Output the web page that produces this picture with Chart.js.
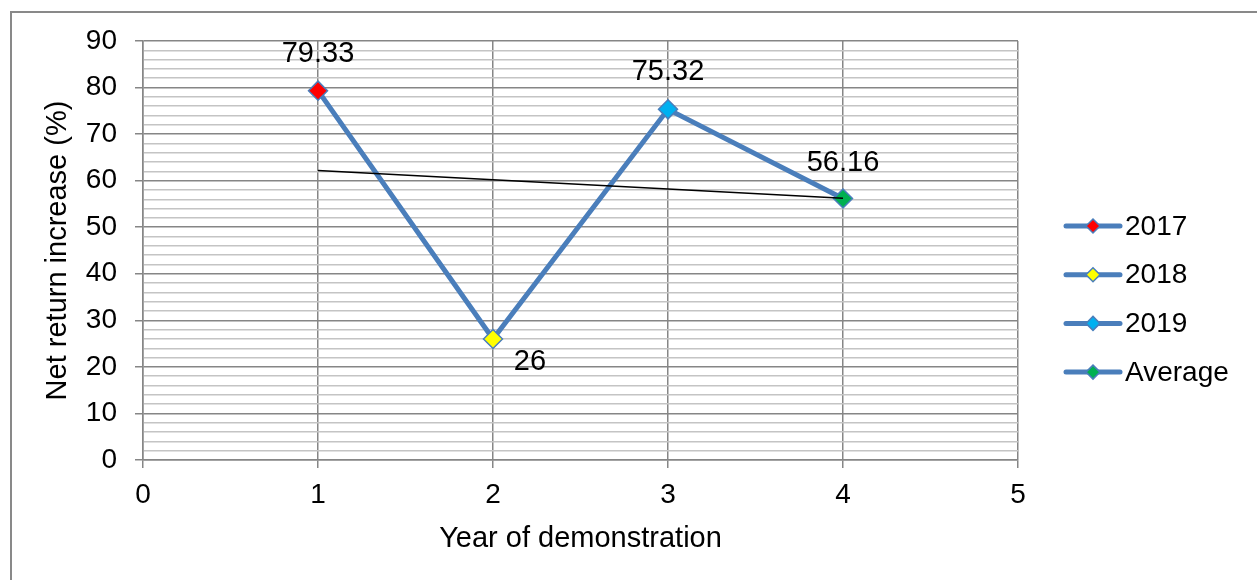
<!DOCTYPE html>
<html>
<head>
<meta charset="utf-8">
<title>Net return increase</title>
<script src="https://cdn.jsdelivr.net/npm/chart.js@4.4.1/dist/chart.umd.min.js"></script>
<style>
    html, body { margin: 0; padding: 0; background: #fff; }
    canvas { display: block; }
</style>
</head>
<body>
<canvas id="chart" width="1257" height="580"></canvas>
<script>
// values
var years = [1, 2, 3, 4];
var netReturn = [79.33, 26, 75.32, 56.16];
var legendNames = ['2017', '2018', '2019', 'Average'];
var trendX = [1, 4];
var trendY = [62.2, 56.2];

var FONT = '"Liberation Sans", Arial, sans-serif';
var TICK_SIZE = 28;
var TITLE_SIZE = 29;
var lineBlue = '#4a7ebb';
var markerColors = ['#ff0000', '#ffff00', '#00b0f0', '#00b050'];
// where each value label sits relative to its point (px)
var labelOffsets = [[0, -37], [37, 23], [0, -37], [0, -36]];

function drawDiamond(ctx, x, y, r, fill) {
    ctx.beginPath();
    ctx.moveTo(x, y - r);
    ctx.lineTo(x + r, y);
    ctx.lineTo(x, y + r);
    ctx.lineTo(x - r, y);
    ctx.closePath();
    ctx.fillStyle = fill;
    ctx.fill();
    ctx.lineWidth = 1.5;
    ctx.strokeStyle = lineBlue;
    ctx.stroke();
}

var frame = {
    id: 'frame',
    beforeDraw: function (chart) {
        var ctx = chart.ctx;
        ctx.save();
        ctx.strokeStyle = '#898989';
        ctx.lineWidth = 2;
        ctx.beginPath();
        ctx.moveTo(11, 580);
        ctx.lineTo(11, 12);
        ctx.lineTo(1257, 12);
        ctx.stroke();
        ctx.restore();
    }
};

var pointLabels = {
    id: 'pointLabels',
    afterDatasetsDraw: function (chart) {
        var meta = chart.getDatasetMeta(0);
        var ctx = chart.ctx;
        ctx.save();
        ctx.font = TITLE_SIZE + 'px ' + FONT;
        ctx.fillStyle = '#000';
        ctx.textAlign = 'center';
        ctx.textBaseline = 'middle';
        meta.data.forEach(function (pt, i) {
            ctx.fillText(String(netReturn[i]), pt.x + labelOffsets[i][0], pt.y + labelOffsets[i][1]);
        });
        ctx.restore();
    }
};

var sideLegend = {
    id: 'sideLegend',
    afterDraw: function (chart) {
        var ctx = chart.ctx;
        var x0 = chart.chartArea.right + 48;
        ctx.save();
        ctx.font = TICK_SIZE + 'px ' + FONT;
        ctx.textAlign = 'left';
        ctx.textBaseline = 'middle';
        legendNames.forEach(function (name, i) {
            var y = 226 + i * 48.7;
            ctx.strokeStyle = lineBlue;
            ctx.lineWidth = 5;
            ctx.lineCap = 'round';
            ctx.beginPath();
            ctx.moveTo(x0, y);
            ctx.lineTo(x0 + 54, y);
            ctx.stroke();
            drawDiamond(ctx, x0 + 27, y, 7, markerColors[i]);
            ctx.fillStyle = '#000';
            ctx.fillText(name, x0 + 59, y + 1);
        });
        ctx.restore();
    }
};

new Chart(document.getElementById('chart'), {
    type: 'scatter',
    data: {
        datasets: [
            {
                label: 'Net return increase',
                data: years.map(function (x, i) { return { x: x, y: netReturn[i] }; }),
                showLine: true,
                borderColor: lineBlue,
                borderWidth: 5,
                pointStyle: 'rectRot',
                pointRadius: 9.5,
                pointHoverRadius: 9.5,
                pointBackgroundColor: markerColors,
                pointBorderColor: lineBlue,
                pointBorderWidth: 1.5,
                order: 1
            },
            {
                label: 'Trend',
                data: trendX.map(function (x, i) { return { x: x, y: trendY[i] }; }),
                showLine: true,
                borderColor: '#000',
                borderWidth: 1.5,
                pointRadius: 0,
                order: 0
            }
        ]
    },
    options: {
        responsive: false,
        animation: false,
        layout: { padding: { left: 0, right: 239, top: 41, bottom: 0 } },
        plugins: {
            legend: { display: false },
            tooltip: { enabled: false }
        },
        scales: {
            x: {
                type: 'linear',
                min: 0,
                max: 5,
                afterFit: function (scale) { scale.height = 120; },
                ticks: {
                    stepSize: 1,
                    color: '#000',
                    padding: 10,
                    font: { family: FONT, size: TICK_SIZE }
                },
                grid: {
                    color: '#868686',
                    tickColor: '#868686',
                    tickLength: 8,
                    lineWidth: 1.5
                },
                border: { color: '#868686', width: 1.5 },
                title: {
                    display: true,
                    text: 'Year of demonstration',
                    color: '#000',
                    font: { family: FONT, size: TITLE_SIZE },
                    padding: { top: 0, bottom: 24 }
                }
            },
            y: {
                min: 0,
                max: 90,
                afterFit: function (scale) { scale.width = 143; },
                ticks: {
                    stepSize: 2,
                    autoSkip: false,
                    maxTicksLimit: 100,
                    color: '#000',
                    padding: 18,
                    font: { family: FONT, size: TICK_SIZE },
                    callback: function (value) { return value % 10 === 0 ? String(value) : ''; }
                },
                grid: {
                    color: function (c) { return c.tick && c.tick.value % 10 === 0 ? '#868686' : '#c4c4c4'; },
                    tickColor: function (c) { return c.tick && c.tick.value % 10 === 0 ? '#868686' : 'rgba(0,0,0,0)'; },
                    tickLength: 8,
                    lineWidth: 1.5
                },
                border: { color: '#868686', width: 1.5 },
                title: {
                    display: true,
                    text: 'Net return increase (%)',
                    color: '#000',
                    font: { family: FONT, size: TITLE_SIZE },
                    padding: { top: 41, bottom: 0 }
                }
            }
        }
    },
    plugins: [frame, pointLabels, sideLegend]
});
</script>
</body>
</html>
